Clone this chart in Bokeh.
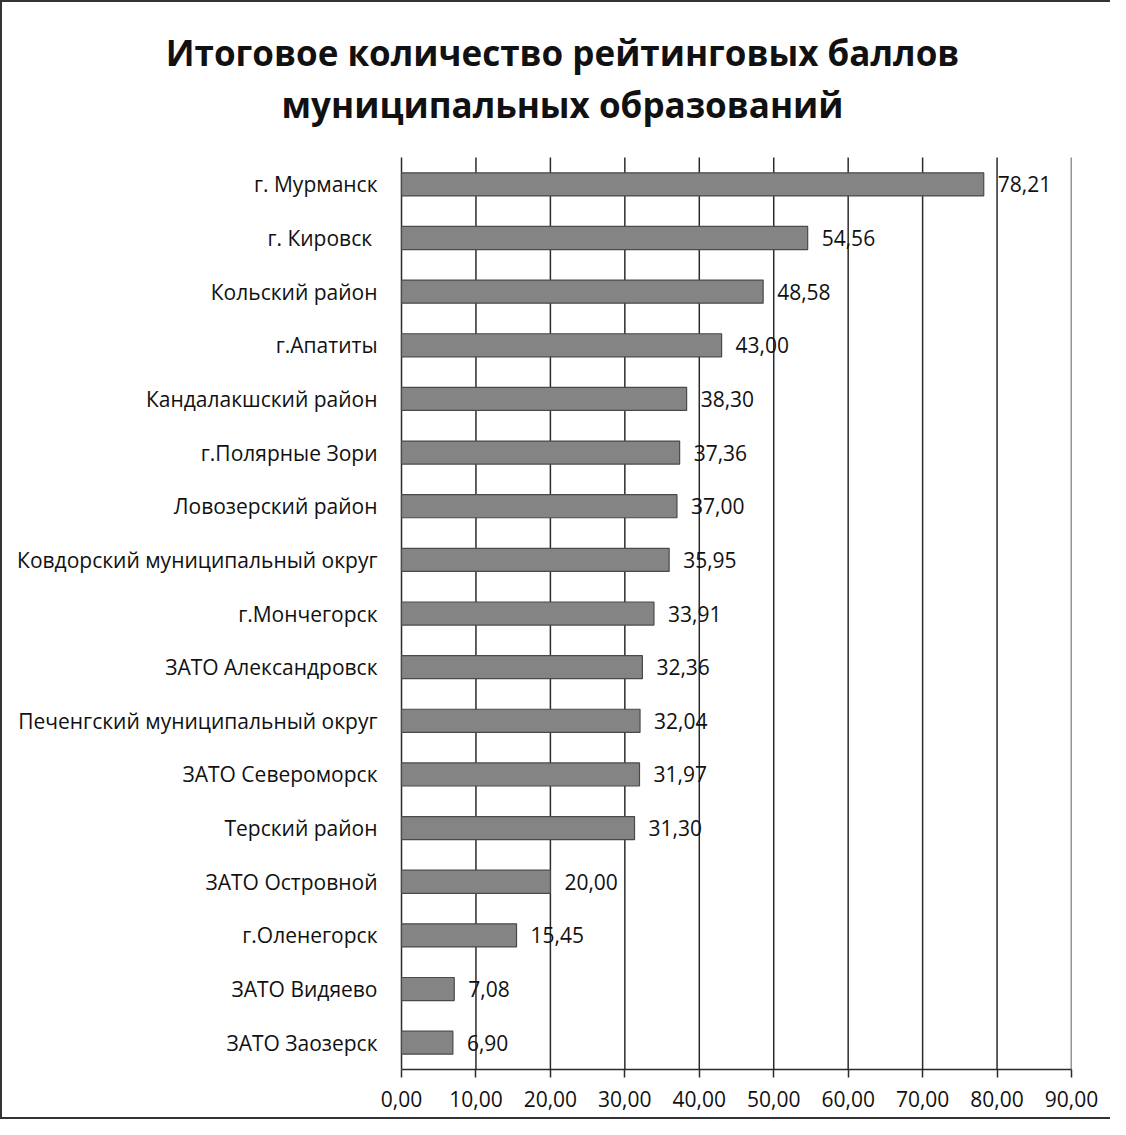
from bokeh.plotting import figure
from bokeh.models import ColumnDataSource, Label, LabelSet, FixedTicker, Range1d
from bokeh.layouts import column
from bokeh.embed import file_html
from bokeh.resources import INLINE
from bokeh.core.properties import value

categories = [
    "г. Мурманск",
    "г. Кировск ",
    "Кольский район",
    "г.Апатиты",
    "Кандалакшский район",
    "г.Полярные Зори",
    "Ловозерский район",
    "Ковдорский муниципальный округ",
    "г.Мончегорск",
    "ЗАТО Александровск",
    "Печенгский муниципальный округ",
    "ЗАТО Североморск",
    "Терский район",
    "ЗАТО Островной",
    "г.Оленегорск",
    "ЗАТО Видяево",
    "ЗАТО Заозерск",
]
scores = [78.21, 54.56, 48.58, 43.00, 38.30, 37.36, 37.00, 35.95, 33.91,
          32.36, 32.04, 31.97, 31.30, 20.00, 15.45, 7.08, 6.90]
x_ticks = [0, 10, 20, 30, 40, 50, 60, 70, 80, 90]
title_lines = ["Итоговое количество рейтинговых баллов", "муниципальных образований"]

FONT = "Open Sans"
INK = "#2b2b2b"
TXT = "#111111"

n = len(categories)
ypos = list(range(n, 0, -1))          # top category drawn highest
score_labels = [f"{v:.2f}".replace(".", ",") for v in scores]
source = ColumnDataSource(dict(cat=categories, y=ypos, score=scores, lab=score_labels))

# frame spans the label and title area too, so that nothing is clipped
X_MIN, X_MAX = -53.6, x_ticks[-1]
Y_MIN, Y_TOP_BARS, Y_MAX = 0.5, n + 0.5, n + 0.5 + 2.89

p = figure(
    width=1108, height=1115,
    x_range=Range1d(X_MIN, X_MAX), y_range=Range1d(Y_MIN, Y_MAX),
    output_backend="svg", toolbar_location=None, y_axis_location=None,
    min_border_left=0, min_border_right=39, min_border_bottom=48, min_border_top=0,
    background_fill_color="white", border_fill_color="white",
)
p.outline_line_color = None
p.grid.visible = False

# vertical grid lines (value axis), limited to the bar area
p.segment(x0=x_ticks, x1=x_ticks, y0=[Y_MIN] * len(x_ticks), y1=[Y_TOP_BARS] * len(x_ticks),
          line_color=INK, line_width=1.5)

p.hbar(y="y", right="score", left=0, height=0.43, source=source,
       fill_color="#848484", line_color="#4a4a4a", line_width=1.2)

# category labels
p.add_layout(LabelSet(x=0, y="y", text="cat", source=source, x_offset=-24,
                      text_align="right", text_baseline="middle",
                      text_font=value(FONT), text_font_size="21px", text_color=TXT))
# value labels
p.add_layout(LabelSet(x="score", y="y", text="lab", source=source, x_offset=14,
                      text_baseline="middle", text_font=value(FONT),
                      text_font_size="21px", text_color=TXT))

# two-line title
for txt, yy in zip(title_lines, [Y_TOP_BARS + 1.957, Y_TOP_BARS + 0.988]):
    p.add_layout(Label(x=21.63, y=yy, text=txt, text_align="center", text_baseline="middle",
                       text_font=FONT, text_font_size="35px", text_font_style="bold",
                       text_color=TXT))

p.xaxis.bounds = (x_ticks[0], x_ticks[-1])
p.xaxis.ticker = FixedTicker(ticks=x_ticks)
p.xaxis.major_label_overrides = {t: f"{t:.2f}".replace(".", ",") for t in x_ticks}
p.xaxis.major_label_text_font = FONT
p.xaxis.major_label_text_font_size = "21px"
p.xaxis.major_label_text_color = TXT
p.xaxis.major_tick_out = 8
p.xaxis.major_tick_in = 0
p.xaxis.minor_tick_line_color = None
p.xaxis.major_label_standoff = 13
p.xaxis.axis_line_color = INK
p.xaxis.axis_line_width = 1.5
p.xaxis.major_tick_line_color = INK
p.xaxis.major_tick_line_width = 1.5

framed = column(p, styles={"border-left": "2px solid #333", "border-top": "2px solid #333",
                           "border-bottom": "2px solid #333", "border-right": "none"})

open("out.html", "w").write(file_html(framed, INLINE))
